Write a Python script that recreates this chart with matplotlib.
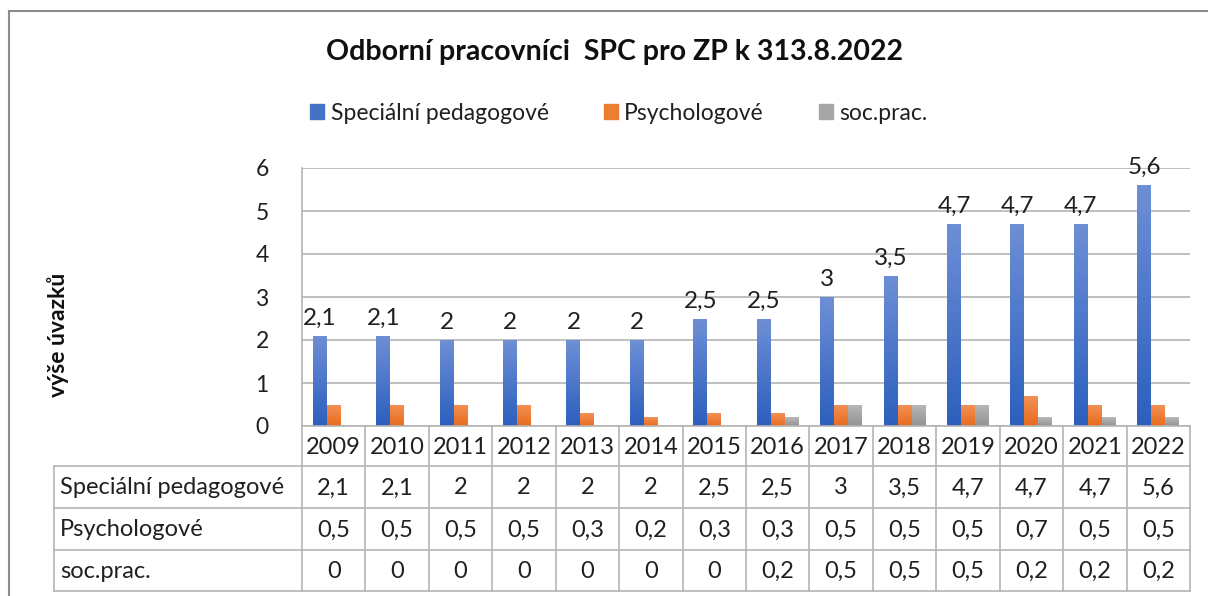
import numpy as np
import matplotlib
matplotlib.use("Agg")
import matplotlib.pyplot as plt
from matplotlib.patches import Rectangle
from matplotlib.colors import LinearSegmentedColormap

plt.rcParams['font.family'] = ['Lato', 'DejaVu Sans']

# data
years = ["2009", "2010", "2011", "2012", "2013", "2014", "2015",
         "2016", "2017", "2018", "2019", "2020", "2021", "2022"]
spec_ped = [2.1, 2.1, 2, 2, 2, 2, 2.5, 2.5, 3, 3.5, 4.7, 4.7, 4.7, 5.6]
psych = [0.5, 0.5, 0.5, 0.5, 0.3, 0.2, 0.3, 0.3, 0.5, 0.5, 0.5, 0.7, 0.5, 0.5]
soc_prac = [0, 0, 0, 0, 0, 0, 0, 0.2, 0.5, 0.5, 0.5, 0.2, 0.2, 0.2]
series_names = ["Speciální pedagogové", "Psychologové", "soc.prac."]

title = "Odborní pracovníci  SPC pro ZP k 313.8.2022"
ylabel = "výše úvazků"

# (top colour, bottom colour) for the gradient fill
grad = [("#6e8fd6", "#2c5fbd"), ("#f29158", "#e86c1c"), ("#b8b8b8", "#939393")]
solid = ["#4472c4", "#ed7d31", "#a5a5a5"]
grid_c = "#b4b4b4"
txt_c = "#202020"

W, H = 1208, 596
fig = plt.figure(figsize=(W / 100, H / 100), dpi=100)

def fx(px):
    return px / W

def fy(py):
    return 1 - py / H

# outer chart frame
fig.patches.append(Rectangle((fx(9), fy(700)), fx(1300), fy(11) - fy(700),
                             transform=fig.transFigure, fill=False,
                             edgecolor="#8c8c8c", linewidth=1.5))

# plot area
left, right, top, bottom = 302, 1190, 168, 426
ax = fig.add_axes([fx(left), fy(bottom), fx(right - left), fy(top) - fy(bottom)])
x = np.arange(len(years))
bw = 0.22
data = [spec_ped, psych, soc_prac]
for i, vals in enumerate(data):
    bars = ax.bar(x + (i - 1) * bw, vals, bw, color=solid[i], zorder=3,
                  linewidth=0, label=series_names[i])
    cmap = LinearSegmentedColormap.from_list("g%d" % i, [grad[i][1], grad[i][0]])
    for b in bars:
        if b.get_height() <= 0:
            continue
        bx0, by0 = b.get_x(), b.get_y()
        im = ax.imshow(np.linspace(0, 1, 64).reshape(-1, 1), cmap=cmap,
                       origin="lower", aspect="auto", zorder=4,
                       extent=[bx0, bx0 + b.get_width(), by0, by0 + b.get_height()])
        im.set_clip_path(b)

for xi, v in zip(x, spec_ped):
    ax.annotate(f"{v:g}".replace(".", ","), (xi - bw, v), xytext=(0, 5),
                textcoords="offset points", ha="center", va="bottom",
                fontsize=17.5, color=txt_c, zorder=5)

ax.set_xlim(-0.5, len(years) - 0.5)
ax.set_ylim(0, 6)
ax.set_yticks(range(7))
ax.yaxis.grid(True, color=grid_c, linewidth=1.2, zorder=0)
ax.set_xticks([])
ax.tick_params(axis="y", length=0, labelsize=16.5, pad=24, labelcolor=txt_c)
for s in ["top", "right", "bottom"]:
    ax.spines[s].set_visible(False)
ax.spines["left"].set_color(grid_c)
ax.spines["left"].set_linewidth(1.2)

# data table under the plot
tab_left, tab_bottom = 54, 591
row_edges = [426, 466, 508, 550, 591]
cat_w = (right - left) / len(years)
tab = fig.add_axes([fx(tab_left), fy(tab_bottom), fx(right - tab_left), fy(426) - fy(tab_bottom)])
x0 = -0.5 - (left - tab_left) / cat_w
tab.set_xlim(x0, len(years) - 0.5)
tab.set_ylim(tab_bottom, 426)
tab.axis("off")

lc = dict(color=grid_c, linewidth=1.2, clip_on=False)
# horizontal lines
tab.plot([-0.5, len(years) - 0.5], [426, 426], **lc)
for yy in row_edges[1:]:
    tab.plot([x0, len(years) - 0.5], [yy, yy], **lc)
# vertical lines
for k in range(len(years) + 1):
    tab.plot([k - 0.5, k - 0.5], [426, tab_bottom], **lc)
tab.plot([x0, x0], [466, tab_bottom], **lc)

fs_tab = 17
for k, yv in enumerate(years):
    tab.text(k, (row_edges[0] + row_edges[1]) / 2 + 1, yv, ha="center", va="center",
             fontsize=fs_tab, color=txt_c)
for r, (name, vals) in enumerate(zip(series_names, data)):
    yc = (row_edges[r + 1] + row_edges[r + 2]) / 2 + 1
    tab.text(x0 + 6 / cat_w, yc, name, ha="left", va="center", fontsize=fs_tab, color=txt_c)
    for k, v in enumerate(vals):
        tab.text(k, yc, f"{v:g}".replace(".", ","), ha="center", va="center",
                 fontsize=fs_tab, color=txt_c)

# title, legend, axis label
fig.text(fx(615), fy(52), title, ha="center", va="center", fontsize=20.5,
         fontweight="bold", color="#101010")
handles = [Rectangle((0, 0), 1, 1, color=c) for c in solid]
fig.legend(handles, series_names, loc="center", bbox_to_anchor=(fx(619), fy(113)),
           ncol=3, frameon=False, fontsize=16.5, handlelength=0.6, handleheight=0.6,
           handletextpad=0.3, columnspacing=2.4, labelcolor=txt_c)
fig.text(fx(58), fy(335), ylabel, rotation=90, ha="center", va="center",
         fontsize=16.5, fontweight="bold", color="#101010")

fig.savefig("out.png", dpi=100)
